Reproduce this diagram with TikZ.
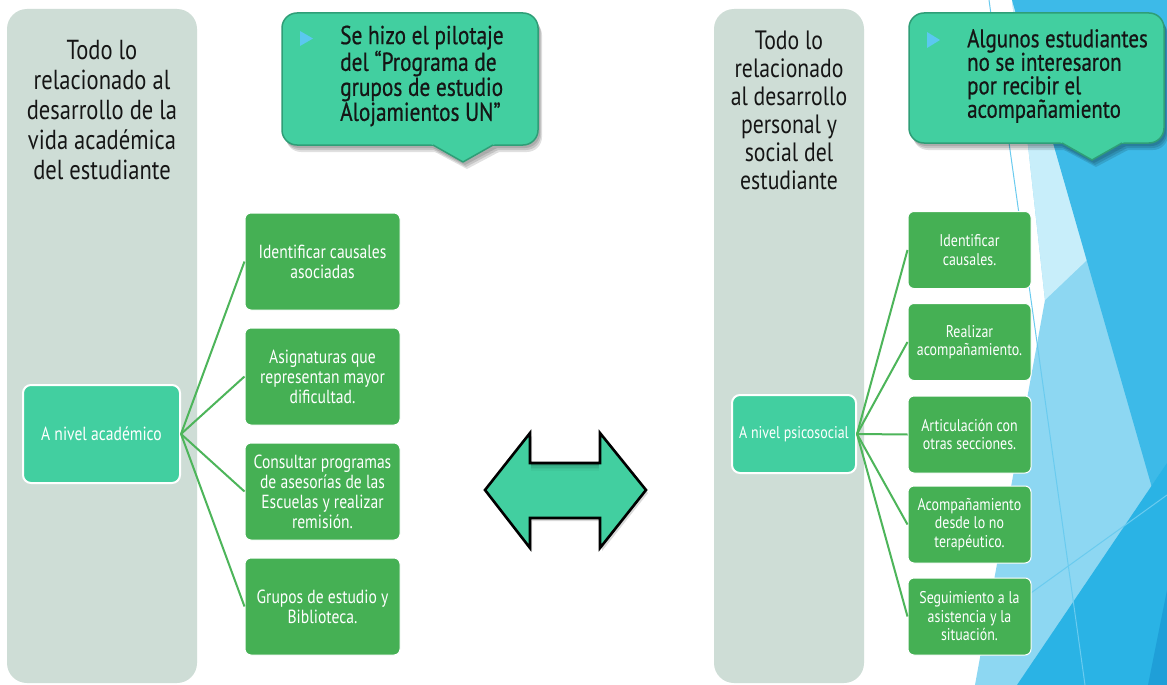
\documentclass[tikz,border=0pt]{standalone}
\usepackage{fontspec}
\setmainfont{PT Sans}[FakeStretch=0.82]
\newfontfamily\calloutfont{PT Sans}[FakeStretch=0.82, FakeBold=0.6]
\usetikzlibrary{calc}
\definecolor{mint}{HTML}{42CFA0}
\definecolor{boxgreen}{HTML}{45B054}
\definecolor{panelgrey}{HTML}{CEDDD6}
\definecolor{linegreen}{HTML}{4DB55A}
\definecolor{calloutedge}{HTML}{2F9E77}
\definecolor{bulletblue}{HTML}{5BC8F0}
\definecolor{bluemed}{HTML}{3DBAE8}
\definecolor{bluepale}{HTML}{C8EEFA}
\definecolor{bluelight}{HTML}{8DD7F2}
\definecolor{bluedark}{HTML}{2AB3E5}
\definecolor{bluedeep}{HTML}{1F9FD8}
\definecolor{blueline}{HTML}{6ACBEF}
\definecolor{inktext}{HTML}{151515}
\tikzset{
  panel/.style={fill=panelgrey, rounded corners=20pt, inner sep=0pt},
  paneltitle/.style={align=center, text=inktext, inner sep=0pt},
  hub/.style={fill=mint, draw=white, line width=2pt, rounded corners=8pt, text=white, align=center, inner sep=2pt},
  leaf/.style={fill=boxgreen, draw=white, line width=1pt, rounded corners=6pt, text=white, align=center, inner sep=2pt},
  link/.style={draw=linegreen, line width=2pt},
  calloutbody/.style={fill=mint, draw=calloutedge, line width=1.5pt, rounded corners=15pt, inner sep=0pt},
  callouttext/.style={align=left, text=inktext, inner sep=0pt, anchor=west},
  shadowfill/.style={fill=black, opacity=0.12},
  bulletmark/.style={fill=bulletblue}
}
\begin{document}
\begin{tikzpicture}[x=1pt,y=-1pt]
\useasboundingbox (0,0) rectangle (1167,685);
\fill[white] (0,0) rectangle (1167,685);
% background facets
\begin{scope}
\clip (0,0) rectangle (1167,685);
\fill[bluelight] (1012,0) -- (1045,300) -- (975,685) -- (1167,685) -- (1167,0) -- cycle;
\fill[bluepale] (1012,0) -- (1087,260) -- (1045,300) -- cycle;
\fill[bluemed] (1012,0) -- (1167,0) -- (1167,540) -- cycle;
\fill[bluedark] (1167,463) -- (1017,685) -- (1167,685) -- cycle;
\fill[bluedeep] (1167,590) -- (1148,685) -- (1167,685) -- cycle;
\draw[blueline, line width=1pt] (989,0) -- (1085,685);
\draw[blueline, line width=1pt] (960,644) -- (1167,495);
\end{scope}
% panels
\node[panel, minimum width=190pt, minimum height=674pt] (lp) at (102,346) {};
\node[panel, minimum width=150pt, minimum height=674pt] (rp) at (789,346) {};
\node[paneltitle, font=\fontsize{27.5}{30}\selectfont] (lpt) at (102,110)
  {Todo lo\\relacionado al\\desarrollo de la\\vida académica\\del estudiante};
\node[paneltitle, font=\fontsize{26.5}{28}\selectfont] (rpt) at (789,110)
  {Todo lo\\relacionado\\al desarrollo\\personal y\\social del\\estudiante};
% callout left
\foreach \dx/\dy in {2/3,3/5,4/7}{
  \fill[shadowfill, rounded corners=15pt] (282+\dx,13+\dy) rectangle (538+\dx,145+\dy);
  \fill[shadowfill] (431+\dx,145+\dy) -- (463+\dx,162+\dy) -- (495+\dx,145+\dy) -- cycle;
}
\node[calloutbody, minimum width=256pt, minimum height=132pt] (c1) at (410,79) {};
\fill[mint] (430,143.4) -- (463,162) -- (496,143.4) -- cycle;
\draw[calloutedge, line width=1.5pt, line join=round] (433,145) -- (463,162) -- (493,145);
\fill[bulletmark] (300,31) -- (313,38.5) -- (300,46) -- cycle;
\node[callouttext, font=\calloutfont\fontsize{26}{25}\selectfont] (c1t) at (340,76)
  {Se hizo el pilotaje\\del “Programa de\\grupos de estudio\\Alojamientos UN”};
% callout right
\foreach \dx/\dy in {2/3,3/5,4/7}{
  \fill[shadowfill, rounded corners=15pt] (909+\dx,13+\dy) rectangle (1164+\dx,143+\dy);
  \fill[shadowfill] (1060+\dx,143+\dy) -- (1092+\dx,160+\dy) -- (1124+\dx,143+\dy) -- cycle;
}
\node[calloutbody, minimum width=255pt, minimum height=130pt] (c2) at (1036.5,78) {};
\fill[mint] (1059,141.4) -- (1092,160) -- (1125,141.4) -- cycle;
\draw[calloutedge, line width=1.5pt, line join=round] (1062,143) -- (1092,160) -- (1122,143);
\fill[bulletmark] (927,32) -- (940,40) -- (927,48) -- cycle;
\node[callouttext, font=\calloutfont\fontsize{25.5}{23.5}\selectfont] (c2t) at (967,76)
  {Algunos estudiantes\\no se interesaron\\por recibir el\\acompañamiento};
% left hierarchy
\node[hub, minimum width=157pt, minimum height=98pt, font=\fontsize{19}{20}\selectfont] (acad) at (101.5,434) {A nivel académico};
\begin{scope}[every node/.style={leaf, minimum width=155pt, minimum height=97pt, font=\fontsize{19}{20}\selectfont}]
\node (a1) at (322.5,261.5) {Identificar causales\\asociadas};
\node (a2) at (322.5,376.5) {Asignaturas que\\representan mayor\\dificultad.};
\node (a3) at (322.5,491.5) {Consultar programas\\de asesorías de las\\Escuelas y realizar\\remisión.};
\node (a4) at (322.5,606.5) {Grupos de estudio y\\Biblioteca.};
\end{scope}
\foreach \n in {a1,a2,a3,a4}{\draw[link] (acad.east) -- (\n.west);}
% right hierarchy
\node[hub, minimum width=124pt, minimum height=78pt, font=\fontsize{17}{18}\selectfont] (psico) at (794,434) {A nivel psicosocial};
\begin{scope}[every node/.style={leaf, minimum width=123pt, minimum height=77pt, font=\fontsize{17}{18.5}\selectfont}]
\node (p1) at (969.5,250) {Identificar\\causales.};
\node (p2) at (969.5,342) {Realizar\\acompañamiento.};
\node (p3) at (969.5,434.5) {Articulación con\\otras secciones.};
\node (p4) at (969.5,524.5) {Acompañamiento\\desde lo no\\terapéutico.};
\node (p5) at (969.5,616.5) {Seguimiento a la\\asistencia y la\\situación.};
\end{scope}
\foreach \n in {p1,p2,p3,p4,p5}{\draw[link] (psico.east) -- (\n.west);}
% double arrow
\fill[black, opacity=0.15] (487,493) -- (532,436) -- (532,466) -- (602,466) -- (602,436) -- (648,493) -- (602,551) -- (602,521) -- (532,521) -- (532,551) -- cycle;
\path[fill=mint] (485,490) -- (530,433) -- (530,463) -- (600,463) -- (600,433) -- (646,490) -- (600,548) -- (600,518) -- (530,518) -- (530,548) -- cycle;
\foreach \i/\o in {1/0.28,2.5/0.2,4/0.13,5.5/0.07,7/0.03}{
  \draw[black, opacity=\o, line width=1.5pt] (531,463+\i) -- (599,463+\i);
}
\draw[black, line width=2.6pt, line join=miter] (485,490) -- (530,433) -- (530,463) -- (600,463) -- (600,433) -- (646,490) -- (600,548) -- (600,518) -- (530,518) -- (530,548) -- cycle;
\end{tikzpicture}
\end{document}
